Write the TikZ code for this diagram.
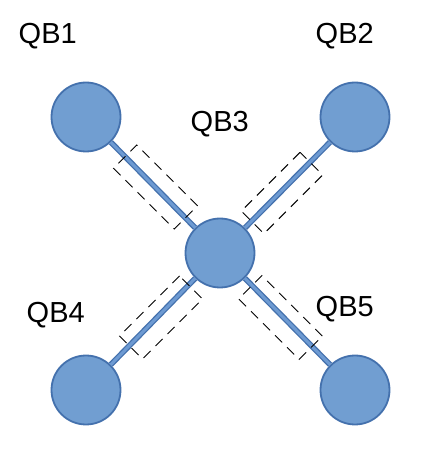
\documentclass[tikz,border=0pt]{standalone}
\usepackage{fontspec}
\setmainfont{Liberation Sans}
\begin{document}
\begin{tikzpicture}[x=1pt,y=1pt,
  qubit/.style={circle,draw=qbedge,fill=qbfill,line width=1.8pt,minimum size=69pt,inner sep=0pt},
  link/.style={draw=qbedge,line width=1.3pt,double=qblink,double distance=3pt},
  box/.style={draw=black,dash pattern=on 10pt off 7pt,line width=0.9pt,minimum height=33pt,inner sep=0pt},
  lab/.style={anchor=base west,inner sep=0pt,font=\fontsize{29}{34}\selectfont}]
\definecolor{qbfill}{HTML}{719ED1}
\definecolor{qbedge}{HTML}{4471AD}
\definecolor{qblink}{HTML}{6D9AD2}
\useasboundingbox (0,0) rectangle (441,467);
\node[qubit] (q1) at (86,350) {};
\node[qubit] (q2) at (355,350) {};
\node[qubit] (q3) at (220,214) {};
\node[qubit] (q4) at (86,77) {};
\node[qubit] (q5) at (355,77) {};
\draw[link] (q3) -- (q1);
\draw[link] (q3) -- (q2);
\draw[link] (q3) -- (q4);
\draw[link] (q3) -- (q5);
\node[box,minimum width=86pt,rotate=-45] (b1) at (155.5,280) {};
\node[box,minimum width=83pt,minimum height=32pt,rotate=45] (b2) at (282,274) {};
\node[box,minimum width=85pt,minimum height=32.5pt,rotate=45] (b4) at (161,149.5) {};
\node[box,minimum width=85.5pt,rotate=-45] (b5) at (280.5,149.5) {};
\node[lab] (l1) at (18.5,423) {QB1};
\node[lab] (l2) at (315.5,423) {QB2};
\node[lab] (l3) at (190.5,335) {QB3};
\node[lab] (l4) at (26.5,144) {QB4};
\node[lab] (l5) at (315.5,150) {QB5};
\end{tikzpicture}
\end{document}
